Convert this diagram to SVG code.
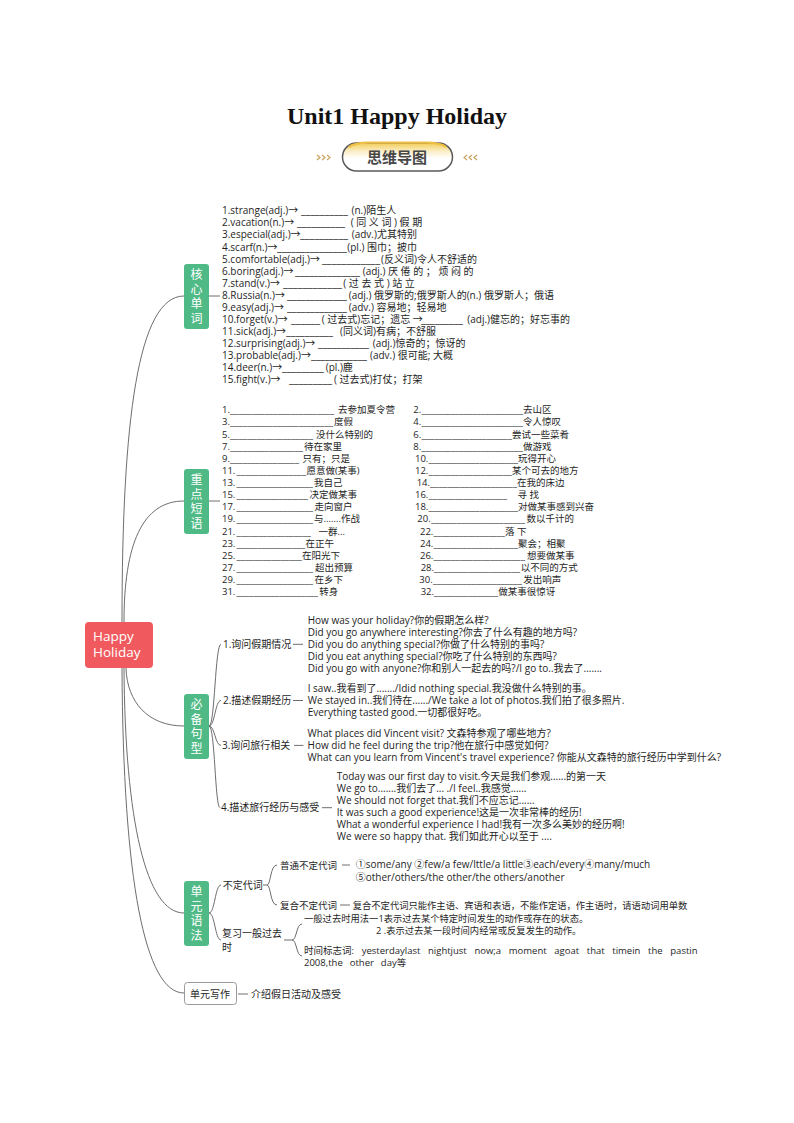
<svg xmlns="http://www.w3.org/2000/svg" width="794" height="1123" viewBox="0 0 794 1123">
<defs>
<style>
text{font-family:"Open Sans","Noto Sans CJK SC",sans-serif;font-size:10px;fill:#1e1e1e}
.p{font-size:9.5px}
.g{font-size:9.3px}
.nd{font-family:"Noto Sans CJK SC",sans-serif;font-size:12px;fill:#fff;text-anchor:middle;writing-mode:vertical-rl;letter-spacing:2.5px}
.green{fill:#4fba86}
.conn path{fill:none;stroke:#6e6e6e;stroke-width:1}
.chev{fill:none;stroke:#c9a35c;stroke-width:1.2}
</style>
<linearGradient id="pill" x1="0" y1="0" x2="0" y2="1">
<stop offset="0" stop-color="#f3cc58"/>
<stop offset="0.3" stop-color="#fbefc8"/>
<stop offset="0.55" stop-color="#ffffff"/>
</linearGradient>
</defs>
<rect width="794" height="1123" fill="#ffffff"/>

<g id="title">
<text x="397" y="124" text-anchor="middle" style="font-family:'Liberation Serif',serif;font-weight:bold;font-size:24px;fill:#111">Unit1 Happy Holiday</text>
</g>
<g id="badge">
<rect x="342.5" y="143" width="110" height="28" rx="14" fill="url(#pill)" stroke="#5a5a5a" stroke-width="1.5"/>
<path d="M349,147 Q355,142.6 369,142.6 H426 Q440,142.6 446,147" fill="none" stroke="#eebf45" stroke-width="2.4"/>
<text x="397" y="163" text-anchor="middle" style="font-family:'Noto Sans CJK SC',sans-serif;font-weight:bold;font-size:15px;fill:#474747">思维导图</text>
<polyline class="chev" points="317,155 320,157.5 317,160"/>
<polyline class="chev" points="322,155 325,157.5 322,160"/>
<polyline class="chev" points="327,155 330,157.5 327,160"/>
<polyline class="chev" points="467,155 464,157.5 467,160"/>
<polyline class="chev" points="472,155 469,157.5 472,160"/>
<polyline class="chev" points="477,155 474,157.5 477,160"/>
</g>

<g class="conn" id="connectors">
<path d="M122,622 C122,420 138,296 184,296"/>
<path d="M124,622 C124,545 142,501 184,501"/>
<path d="M126,668 C127,702 148,726 184,726"/>
<path d="M124,668 C125,820 146,913 184,913"/>
<path d="M122,668 C123,880 145,993 184,993"/>
<path d="M209,296 H220"/>
<path d="M209,501 H220"/>
<path d="M209,726 C215,726 215,644.3 221,644.3"/>
<path d="M209,726 C215,726 215,700.5 221,700.5"/>
<path d="M209,726 C215,726 215,745.4 221,745.4"/>
<path d="M209,726 C215,726 215,807.7 220,807.7"/>
<path d="M293,644.3 H303"/>
<path d="M293,700.5 H303"/>
<path d="M294,745.4 H303.5"/>
<path d="M322,807.7 H332"/>
<path d="M209,913 C215,913 215,885 221,885"/>
<path d="M209,913 C215,913 215,940 221,940"/>
<path d="M263,885 H267 C271,885 270,865 277,865"/>
<path d="M267,885 C271,885 270,905 277,905"/>
<path d="M342,865 H350"/>
<path d="M340,905 H350"/>
<path d="M284,940 H292 C297,940 296,924 302,924"/>
<path d="M292,940 C297,940 296,956 302,956"/>
<path d="M238,994 H248"/>
</g>

<g id="root">
<rect x="85" y="622" width="68" height="46" rx="4" fill="#f05a5e"/>
<text x="93" y="640.8" style="font-size:13.5px;fill:#fff">Happy<tspan x="93" y="656.8">Holiday</tspan></text>
</g>

<g id="n-words">
<rect class="green" x="184" y="264" width="25" height="65" rx="3"/>
<text class="nd" x="196.5" y="297.7">核心单词</text>
</g>
<g id="n-phrases">
<rect class="green" x="184" y="469" width="25" height="65" rx="3"/>
<text class="nd" x="196.5" y="502.7">重点短语</text>
</g>
<g id="n-sentences">
<rect class="green" x="184" y="694" width="25" height="65" rx="3"/>
<text class="nd" x="196.5" y="727.7">必备句型</text>
</g>
<g id="n-grammar">
<rect class="green" x="184" y="881" width="25" height="65" rx="3"/>
<text class="nd" x="196.5" y="914.7">单元语法</text>
</g>
<g id="n-writing">
<rect x="184.5" y="982.5" width="52" height="22" rx="3" fill="#fff" stroke="#9a9a9a" stroke-width="1"/>
<text x="190" y="998">单元写作</text>
</g>

<g id="words">
<text x="222" y="214.3">1.strange(adj.)→ <tspan x="301" textLength="47" lengthAdjust="spacingAndGlyphs">__________</tspan><tspan x="351.5">(n.)陌生人</tspan></text>
<text x="222" y="226.4">2.vacation(n.)→ <tspan x="297" textLength="48" lengthAdjust="spacingAndGlyphs">__________</tspan><tspan x="350.7">( 同 义 词 ) 假 期</tspan></text>
<text x="222" y="238.4">3.especial(adj.)→<tspan x="300" textLength="48" lengthAdjust="spacingAndGlyphs">__________</tspan><tspan x="351.7">(adv.)尤其特别</tspan></text>
<text x="222" y="250.5">4.scarf(n.)→<tspan x="277" textLength="70" lengthAdjust="spacingAndGlyphs">_______________</tspan><tspan x="347.3">(pl.) 围巾；披巾</tspan></text>
<text x="222" y="262.6">5.comfortable(adj.)→<tspan x="322" textLength="58" lengthAdjust="spacingAndGlyphs">____________</tspan><tspan x="381">(反义词)令人不舒适的</tspan></text>
<text x="222" y="274.6">6.boring(adj.)→<tspan x="295" textLength="65" lengthAdjust="spacingAndGlyphs">______________</tspan><tspan x="362.7">(adj.) 厌 倦 的 ； 烦 闷 的</tspan></text>
<text x="222" y="286.7">7.stand(v.)→ <tspan x="283" textLength="59" lengthAdjust="spacingAndGlyphs">____________</tspan><tspan x="343.3">( 过 去 式 ) 站 立</tspan></text>
<text x="222" y="298.8">8.Russia(n.)→ <tspan x="287" textLength="60" lengthAdjust="spacingAndGlyphs">_____________</tspan><tspan x="348.7">(adj.) 俄罗斯的;俄罗斯人的(n.) 俄罗斯人；俄语</tspan></text>
<text x="222" y="310.9">9.easy(adj.)→ <tspan x="287" textLength="60" lengthAdjust="spacingAndGlyphs">_____________</tspan><tspan x="348.7">(adv.) 容易地；轻易地</tspan></text>
<text x="222" y="322.9">10.forget(v.)→ <tspan x="291" textLength="29" lengthAdjust="spacingAndGlyphs">______</tspan><tspan x="321.7">( 过去式)忘记；遗忘 →</tspan><tspan x="421" textLength="42" lengthAdjust="spacingAndGlyphs">_________</tspan><tspan x="467.3">(adj.)健忘的；好忘事的</tspan></text>
<text x="222" y="335.0">11.sick(adj.)→<tspan x="286" textLength="47" lengthAdjust="spacingAndGlyphs">__________</tspan><tspan x="340">(同义词)有病；不舒服</tspan></text>
<text x="222" y="347.1">12.surprising(adj.)→ <tspan x="318" textLength="51" lengthAdjust="spacingAndGlyphs">___________</tspan><tspan x="372.7">(adj.)惊奇的；惊讶的</tspan></text>
<text x="222" y="359.1">13.probable(adj.)→<tspan x="311" textLength="56" lengthAdjust="spacingAndGlyphs">____________</tspan><tspan x="370">(adv.) 很可能; 大概</tspan></text>
<text x="222" y="371.2">14.deer(n.)→<tspan x="282" textLength="42" lengthAdjust="spacingAndGlyphs">_________</tspan><tspan x="325.7">(pl.)鹿</tspan></text>
<text x="222" y="383.3">15.fight(v.)→ <tspan x="289" textLength="43" lengthAdjust="spacingAndGlyphs">_________</tspan><tspan x="334">( 过去式)打仗；打架</tspan></text>
</g>

<g id="phrases">
<text class="p" x="222" y="413.2">1.<tspan x="230" textLength="104" lengthAdjust="spacingAndGlyphs">________________________</tspan><tspan x="338">去参加夏令营</tspan></text>
<text class="p" x="413.3" y="413.2">2.<tspan x="421.5" textLength="101.5" lengthAdjust="spacingAndGlyphs">________________________</tspan><tspan x="523">去山区</tspan></text>
<text class="p" x="222" y="425.3">3.<tspan x="230" textLength="103" lengthAdjust="spacingAndGlyphs">________________________</tspan><tspan x="334">度假</tspan></text>
<text class="p" x="413.3" y="425.3">4.<tspan x="421.5" textLength="101.5" lengthAdjust="spacingAndGlyphs">________________________</tspan><tspan x="523">令人惊叹</tspan></text>
<text class="p" x="222" y="437.5">5.<tspan x="230" textLength="83" lengthAdjust="spacingAndGlyphs">___________________</tspan><tspan x="316">没什么特别的</tspan></text>
<text class="p" x="413.3" y="437.5">6.<tspan x="421.5" textLength="90.5" lengthAdjust="spacingAndGlyphs">_____________________</tspan><tspan x="512">尝试一些菜肴</tspan></text>
<text class="p" x="222" y="449.6">7.<tspan x="230" textLength="73" lengthAdjust="spacingAndGlyphs">_________________</tspan><tspan x="304">待在家里</tspan></text>
<text class="p" x="413.3" y="449.6">8.<tspan x="421.5" textLength="101.5" lengthAdjust="spacingAndGlyphs">________________________</tspan><tspan x="523">做游戏</tspan></text>
<text class="p" x="222" y="461.7">9.<tspan x="230" textLength="69" lengthAdjust="spacingAndGlyphs">________________</tspan><tspan x="302.5">只有；只是</tspan></text>
<text class="p" x="415" y="461.7">10.<tspan x="428.5" textLength="89.5" lengthAdjust="spacingAndGlyphs">_____________________</tspan><tspan x="518">玩得开心</tspan></text>
<text class="p" x="222" y="473.9">11.<tspan x="236.5" textLength="69.5" lengthAdjust="spacingAndGlyphs">________________</tspan><tspan x="306.5">愿意做(某事)</tspan></text>
<text class="p" x="415" y="473.9">12.<tspan x="428.5" textLength="83.5" lengthAdjust="spacingAndGlyphs">___________________</tspan><tspan x="512">某个可去的地方</tspan></text>
<text class="p" x="222" y="486.0">13.<tspan x="236.5" textLength="76.5" lengthAdjust="spacingAndGlyphs">__________________</tspan><tspan x="314">我自己</tspan></text>
<text class="p" x="416.7" y="486.0">14.<tspan x="430" textLength="87" lengthAdjust="spacingAndGlyphs">____________________</tspan><tspan x="517">在我的床边</tspan></text>
<text class="p" x="222" y="498.1">15.<tspan x="236.5" textLength="71.5" lengthAdjust="spacingAndGlyphs">_________________</tspan><tspan x="309.5">决定做某事</tspan></text>
<text class="p" x="415" y="498.1">16.<tspan x="428.5" textLength="78.5" lengthAdjust="spacingAndGlyphs">__________________</tspan><tspan x="515"> 寻 找</tspan></text>
<text class="p" x="222" y="510.2">17.<tspan x="236.5" textLength="76.5" lengthAdjust="spacingAndGlyphs">__________________</tspan><tspan x="314.5">走向窗户</tspan></text>
<text class="p" x="415" y="510.2">18.<tspan x="428.5" textLength="89.5" lengthAdjust="spacingAndGlyphs">_____________________</tspan><tspan x="518">对做某事感到兴奋</tspan></text>
<text class="p" x="222" y="522.4">19.<tspan x="236.5" textLength="76.5" lengthAdjust="spacingAndGlyphs">__________________</tspan><tspan x="314">与.......作战</tspan></text>
<text class="p" x="417.3" y="522.4">20.<tspan x="431" textLength="94" lengthAdjust="spacingAndGlyphs">______________________</tspan><tspan x="526.5">数以千计的</tspan></text>
<text class="p" x="222" y="534.5">21.<tspan x="236.5" textLength="74.5" lengthAdjust="spacingAndGlyphs">_________________</tspan><tspan x="318.5">一群...</tspan></text>
<text class="p" x="420" y="534.5">22.<tspan x="433.5" textLength="71.5" lengthAdjust="spacingAndGlyphs">_________________</tspan><tspan x="505">落 下</tspan></text>
<text class="p" x="222" y="546.6">23.<tspan x="236.5" textLength="68.5" lengthAdjust="spacingAndGlyphs">________________</tspan><tspan x="305.5">在正午</tspan></text>
<text class="p" x="420" y="546.6">24.<tspan x="433.5" textLength="84.5" lengthAdjust="spacingAndGlyphs">____________________</tspan><tspan x="518">聚会；相聚</tspan></text>
<text class="p" x="222" y="558.8">25.<tspan x="236.5" textLength="65.5" lengthAdjust="spacingAndGlyphs">_______________</tspan><tspan x="302">在阳光下</tspan></text>
<text class="p" x="420" y="558.8">26.<tspan x="433.5" textLength="91.5" lengthAdjust="spacingAndGlyphs">_____________________</tspan><tspan x="527">想要做某事</tspan></text>
<text class="p" x="222" y="570.9">27.<tspan x="236.5" textLength="76.5" lengthAdjust="spacingAndGlyphs">__________________</tspan><tspan x="315">超出预算</tspan></text>
<text class="p" x="420.7" y="570.9">28.<tspan x="434" textLength="86" lengthAdjust="spacingAndGlyphs">____________________</tspan><tspan x="520.7">以不同的方式</tspan></text>
<text class="p" x="222" y="583.0">29.<tspan x="236.5" textLength="76.5" lengthAdjust="spacingAndGlyphs">__________________</tspan><tspan x="314.5">在乡下</tspan></text>
<text class="p" x="419.3" y="583.0">30.<tspan x="433" textLength="89" lengthAdjust="spacingAndGlyphs">_____________________</tspan><tspan x="523.3">发出响声</tspan></text>
<text class="p" x="222" y="595.2">31.<tspan x="236.5" textLength="81.5" lengthAdjust="spacingAndGlyphs">___________________</tspan><tspan x="319.3">转身</tspan></text>
<text class="p" x="420.7" y="595.2">32.<tspan x="434" textLength="64" lengthAdjust="spacingAndGlyphs">_______________</tspan><tspan x="498.3">做某事很惊讶</tspan></text>
</g>

<g id="s1">
<text x="223" y="648">1.询问假期情况</text>
<text x="307.7" y="623.6">How was your holiday?你的假期怎么样?</text>
<text x="307.7" y="635.7">Did you go anywhere interesting?你去了什么有趣的地方吗?</text>
<text x="307.7" y="647.8">Did you do anything special?你做了什么特别的事吗?</text>
<text x="307.7" y="660">Did you eat anything special?你吃了什么特别的东西吗?</text>
<text x="307.7" y="672">Did you go with anyone?你和别人一起去的吗?/I go to..我去了.......</text>
</g>
<g id="s2">
<text x="223" y="704.1">2.描述假期经历</text>
<text x="307.7" y="692.3">I saw..我看到了......./Idid nothing special.我没做什么特别的事。</text>
<text x="307.7" y="704.1">We stayed in..我们待在....../We take a lot of photos.我们拍了很多照片.</text>
<text x="307.7" y="715.9">Everything tasted good.一切都很好吃。</text>
</g>
<g id="s3">
<text x="222" y="749">3.询问旅行相关</text>
<text x="307.6" y="736.9">What places did Vincent visit? 文森特参观了哪些地方?</text>
<text x="307.6" y="749">How did he feel during the trip?他在旅行中感觉如何?</text>
<text x="307.6" y="761.1">What can you learn from Vincent's travel experience? 你能从文森特的旅行经历中学到什么?</text>
</g>
<g id="s4">
<text x="221" y="811.3">4.描述旅行经历与感受</text>
<text x="336.7" y="780.3">Today was our first day to visit.今天是我们参观......的第一天</text>
<text x="336.7" y="792.3">We go to.......我们去了... ./I feel..我感觉......</text>
<text x="336.7" y="804.3">We should not forget that.我们不应忘记......</text>
<text x="336.7" y="816.3">It was such a good experience!这是一次非常棒的经历!</text>
<text x="336.7" y="828.3">What a wonderful experience I had!我有一次多么美妙的经历啊!</text>
<text x="336.7" y="840.3">We were so happy that. 我们如此开心以至于 ....</text>
</g>

<g id="grammar">
<text x="222.7" y="888.6">不定代词</text>
<text class="p" x="280" y="868.5">普通不定代词</text>
<text x="355.7" y="868.3">①some/any ②few/a few/lttle/a little③each/every④many/much</text>
<text x="355.7" y="880.6">⑤other/others/the other/the others/another</text>
<text class="p" x="280" y="908.5">复合不定代词</text>
<text class="g" x="352.7" y="908.5">复合不定代词只能作主语、宾语和表语，不能作定语，作主语时，请语动词用单数</text>
<text x="222" y="937.3">复习一般过去<tspan x="222" y="950.6">时</tspan></text>
<text class="g" x="304" y="922">一般过去时用法一1表示过去某个特定时间发生的动作或存在的状态。</text>
<text class="g" x="376" y="933.6">2 .表示过去某一段时间内经常或反复发生的动作。</text>
<text class="p" x="304" y="953.6" word-spacing="5.2">时间标志词: yesterdaylast nightjust now;a moment agoat that timein the pastin</text>
<text class="p" x="304" y="965.6" word-spacing="4.5">2008,the other day等</text>
</g>

<g id="writing">
<text x="251" y="998">介绍假日活动及感受</text>
</g>
</svg>
